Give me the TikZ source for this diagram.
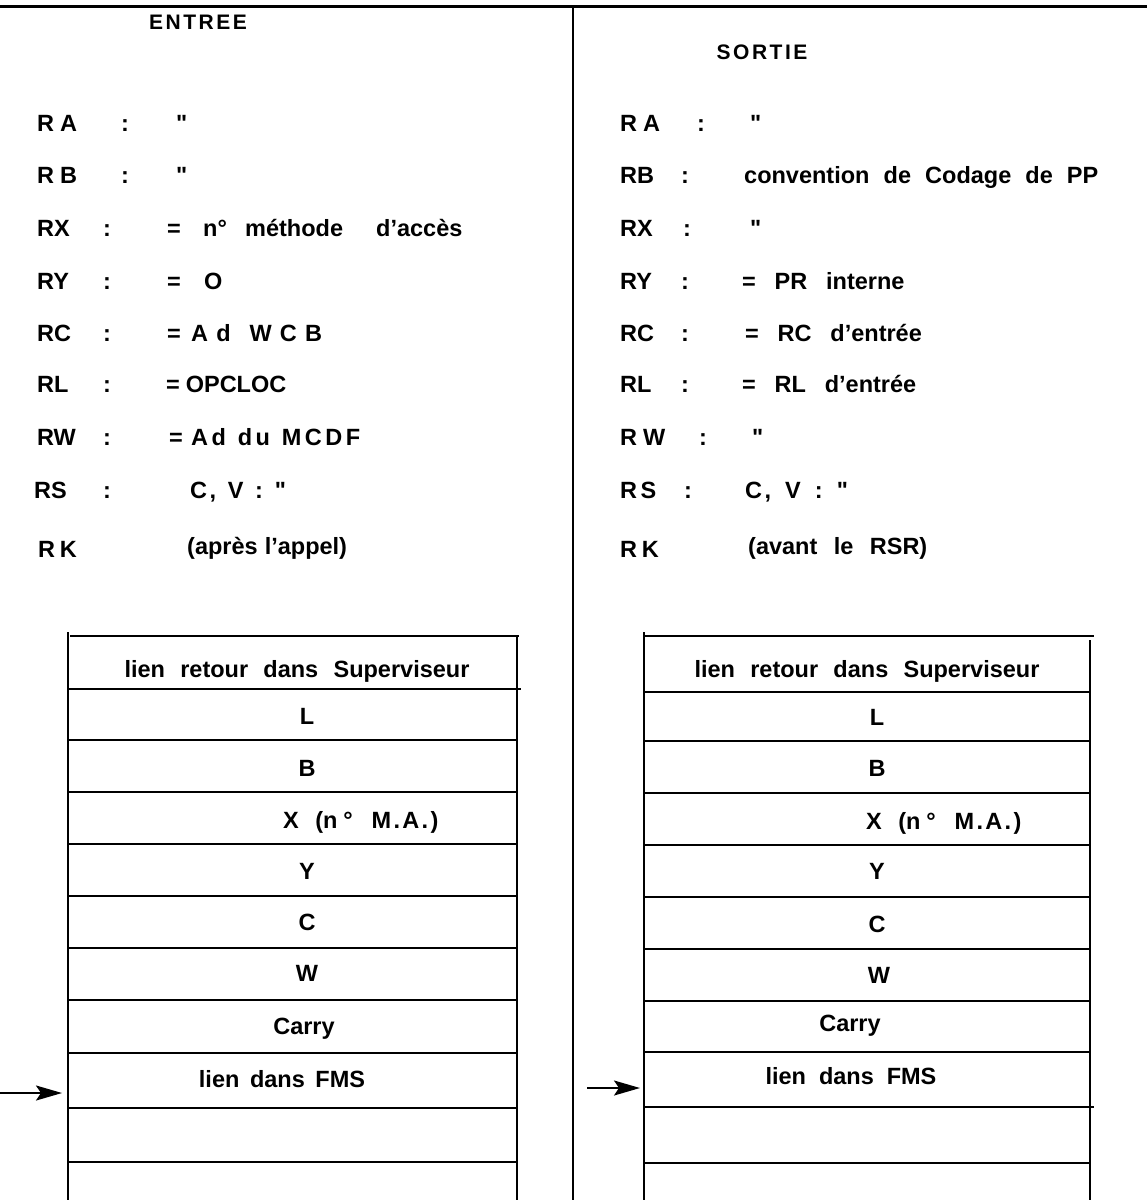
\documentclass[tikz,border=0pt]{standalone}
\usepackage{fontspec}
\setmainfont{Liberation Sans}[Ligatures=TeXOff]
\usetikzlibrary{arrows.meta}
\newcommand\gp[1]{\hspace{#1em}}
\newcommand\dq{\char34}
\tikzset{
  txt/.style={anchor=base west, yshift=-8.4pt, inner sep=0pt, font=\fontsize{23.5}{27}\selectfont\bfseries},
  cell/.style={anchor=base, yshift=-8.4pt, inner sep=0pt, font=\fontsize{23.5}{27}\selectfont\bfseries},
  title/.style={anchor=base, yshift=-7.5pt, inner sep=0pt, font=\fontsize{21}{24}\selectfont\bfseries},
  rule/.style={line width=2.8pt},
  thin/.style={line width=1.2pt},
  ptr/.style={line width=2pt, -{Stealth[length=26pt,width=15pt,inset=5pt]}}
}
\begin{document}
\begin{tikzpicture}[x=1pt,y=-1pt]
\useasboundingbox (0,0) rectangle (1147,1200);
% frame
\coordinate (tl) at (0,6); \coordinate (tr) at (1147,6);
\draw[line width=3pt] (tl) -- (tr);
\coordinate (dv1) at (573,6); \coordinate (dv2) at (573,1200);
\draw[thin] (dv1) -- (dv2);
% titles
\node[title] (entree) at (198,22) {E\kern2.5pt N\kern2.5pt T\kern2.5pt R\kern2.5pt E\kern2.5pt E};
\node[title] (sortie) at (762,52) {S\kern2.5pt O\kern2.5pt R\kern2.5pt T\kern2.5pt I\kern2.5pt E};
% left registers
\node[txt] (la1) at (37,123) {R\gp{0.25}A}; \node[txt] (la2) at (121,123) {:}; \node[txt] (la3) at (176,123) {\dq};
\node[txt] (lb1) at (37,175) {R\gp{0.25}B}; \node[txt] (lb2) at (121,175) {:}; \node[txt] (lb3) at (176,175) {\dq};
\node[txt] (lx1) at (37,228) {RX}; \node[txt] (lx2) at (103,228) {:}; \node[txt] (lx3) at (167,228) {=};
\node[txt] (lx4) at (203,228) {n°}; \node[txt] (lx5) at (245,228) {méthode}; \node[txt] (lx6) at (376,228) {d’accès};
\node[txt] (ly1) at (37,281) {RY}; \node[txt] (ly2) at (103,281) {:}; \node[txt] (ly3) at (167,281) {=}; \node[txt] (ly4) at (204,281) {O};
\node[txt] (lc1) at (37,333) {RC}; \node[txt] (lc2) at (103,333) {:}; \node[txt] (lc3) at (167,333) {=}; \node[txt] (lc4) at (191,333) {A\gp{0.35}d\gp{0.8}W\gp{0.35}C\gp{0.35}B};
\node[txt] (ll1) at (37,384) {RL}; \node[txt] (ll2) at (103,384) {:}; \node[txt] (ll3) at (166,384) {=\gp{0.25}OPCLOC};
\node[txt] (lw1) at (37,437) {RW}; \node[txt] (lw2) at (103,437) {:}; \node[txt] (lw3) at (169,437) {=}; \node[txt] (lw4) at (191,437) {A\gp{0.15}d\gp{0.5}d\gp{0.15}u\gp{0.5}M\gp{0.15}C\gp{0.15}D\gp{0.15}F};
\node[txt] (ls1) at (34,490) {RS}; \node[txt] (ls2) at (103,490) {:}; \node[txt] (ls3) at (190,490) {C\gp{0.1},\gp{0.5}V\gp{0.5}:\gp{0.5}\dq};
\node[txt] (lk1) at (38,549) {R\gp{0.2}K}; \node[txt] (lk2) at (187,546) {(après\gp{0.3}l’appel)};
% right registers
\node[txt] (ra1) at (620,123) {R\gp{0.25}A}; \node[txt] (ra2) at (697,123) {:}; \node[txt] (ra3) at (750,123) {\dq};
\node[txt] (rb1) at (620,175) {RB}; \node[txt] (rb2) at (681,175) {:}; \node[txt] (rb3) at (744,175) {convention\gp{0.6}de\gp{0.6}Codage\gp{0.6}de\gp{0.6}PP};
\node[txt] (rx1) at (620,228) {RX}; \node[txt] (rx2) at (683,228) {:}; \node[txt] (rx3) at (750,228) {\dq};
\node[txt] (ry1) at (620,281) {RY}; \node[txt] (ry2) at (681,281) {:}; \node[txt] (ry3) at (742,281) {=\gp{0.8}PR\gp{0.8}interne};
\node[txt] (rc1) at (620,333) {RC}; \node[txt] (rc2) at (681,333) {:}; \node[txt] (rc3) at (745,333) {=\gp{0.8}RC\gp{0.8}d’entrée};
\node[txt] (rl1) at (620,384) {RL}; \node[txt] (rl2) at (681,384) {:}; \node[txt] (rl3) at (742,384) {=\gp{0.8}RL\gp{0.8}d’entrée};
\node[txt] (rw1) at (620,437) {R\gp{0.25}W}; \node[txt] (rw2) at (699,437) {:}; \node[txt] (rw3) at (752,437) {\dq};
\node[txt] (rs1) at (620,490) {R\gp{0.15}S}; \node[txt] (rs2) at (684,490) {:}; \node[txt] (rs3) at (745,490) {C\gp{0.1},\gp{0.6}V\gp{0.6}:\gp{0.6}\dq};
\node[txt] (rk1) at (620,549) {R\gp{0.2}K}; \node[txt] (rk2) at (748,546) {(avant\gp{0.7}le\gp{0.7}RSR)};
% left table
\draw[rule] (68,632) -- (68,1200);
\draw[rule] (517,636) -- (517,1200);
\draw[rule] (70,636) -- (519,636);
\draw[rule] (68,689) -- (521,689);
\foreach \y in {740,792,844,896,948,1000,1053,1108,1162} \draw[rule] (68,\y) -- (517,\y);
\node[cell] (lt0) at (297,669) {lien\gp{0.65}retour\gp{0.65}dans\gp{0.65}Superviseur};
\node[cell] (lt1) at (307,716) {L};
\node[cell] (lt2) at (307,768) {B};
\node[txt]  (lt3) at (283,820) {X\gp{0.7}(n\gp{0.25}°\gp{0.8}M\gp{0.1}.\gp{0.1}A\gp{0.1}.\gp{0.1})};
\node[cell] (lt4) at (307,871) {Y};
\node[cell] (lt5) at (307,922) {C};
\node[cell] (lt6) at (307,973) {W};
\node[cell] (lt7) at (304,1026) {Carry};
\node[cell] (lt8) at (282,1079) {lien\gp{0.45}dans\gp{0.45}FMS};
% right table
\draw[rule] (644,632) -- (644,1200);
\draw[rule] (1090,640) -- (1090,1200);
\draw[rule] (644,636) -- (1094,636);
\draw[rule] (644,692) -- (1090,692);
\foreach \y in {741,793,845,897,949,1001,1052} \draw[rule] (644,\y) -- (1090,\y);
\draw[rule] (644,1107) -- (1094,1107);
\draw[rule] (644,1163) -- (1090,1163);
\node[cell] (rt0) at (867,669) {lien\gp{0.65}retour\gp{0.65}dans\gp{0.65}Superviseur};
\node[cell] (rt1) at (877,717) {L};
\node[cell] (rt2) at (877,768) {B};
\node[txt]  (rt3) at (866,821) {X\gp{0.7}(n\gp{0.25}°\gp{0.8}M\gp{0.1}.\gp{0.1}A\gp{0.1}.\gp{0.1})};
\node[cell] (rt4) at (877,871) {Y};
\node[cell] (rt5) at (877,924) {C};
\node[cell] (rt6) at (879,975) {W};
\node[cell] (rt7) at (850,1023) {Carry};
\node[cell] (rt8) at (851,1076) {lien\gp{0.55}dans\gp{0.55}FMS};
% arrows
\coordinate (aL0) at (0,1093); \coordinate (aL1) at (62,1093);
\draw[ptr] (aL0) -- (aL1);
\coordinate (aR0) at (587,1088); \coordinate (aR1) at (640,1088);
\draw[ptr] (aR0) -- (aR1);
\end{tikzpicture}
\end{document}
